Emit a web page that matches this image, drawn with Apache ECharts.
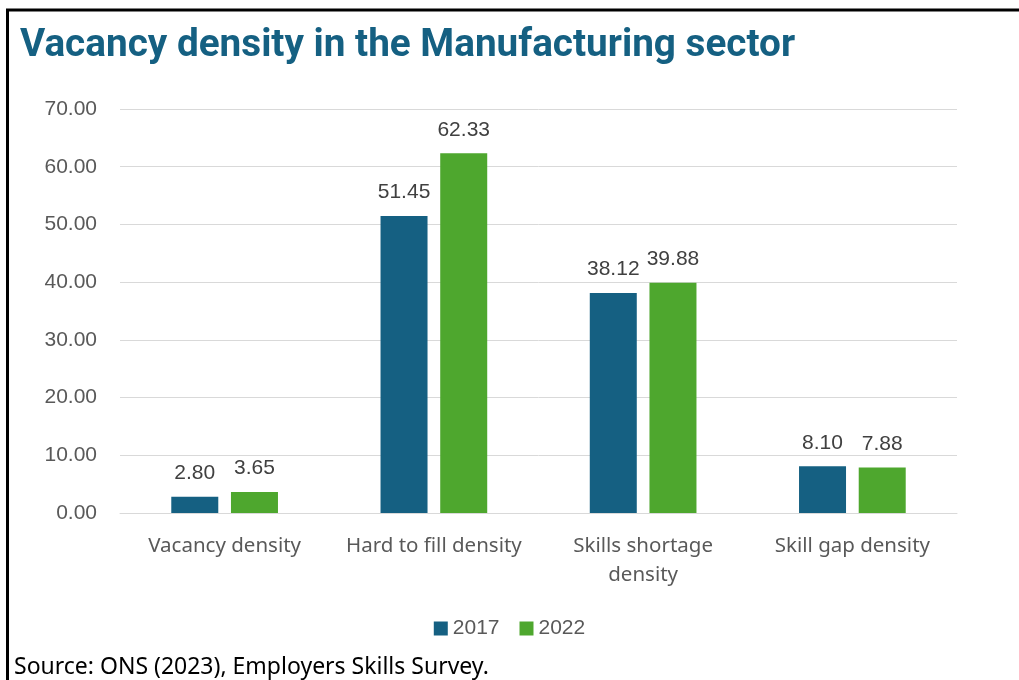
<!DOCTYPE html>
<html>
<head>
<meta charset="utf-8">
<script src="https://cdn.jsdelivr.net/npm/echarts@6/dist/echarts.min.js"></script>
<style>
html,body{margin:0;padding:0;background:#fff;}
#c{width:1019px;height:680px;}
</style>
</head>
<body>
<div id="c"></div>
<script>
const categories = ['Vacancy density', 'Hard to fill density', 'Skills shortage\ndensity', 'Skill gap density'];
const values2017 = [2.80, 51.45, 38.12, 8.10];
const values2022 = [3.65, 62.33, 39.88, 7.88];
const seriesNames = ['2017', '2022'];
const titleText = 'Vacancy density in the Manufacturing sector';
const sourceText = 'Source: ONS (2023), Employers Skills Survey.';

const chart = echarts.init(document.getElementById('c'), null, {renderer: 'canvas'});
const labelStyle = {
  show: true, position: 'top', distance: 13,
  formatter: p => p.value.toFixed(2),
  fontFamily: 'Liberation Sans, Arial, sans-serif', fontSize: 21, color: '#404040'
};
chart.setOption({
  animation: false,
  backgroundColor: '#fff',
  title: {
    text: titleText, left: 15, top: 22,
    textStyle: {fontFamily: 'Roboto, Noto Sans, sans-serif', fontWeight: 'bold', fontSize: 38.7, color: '#156082'}
  },
  graphic: [
    {type: 'line', shape: {x1: 6, y1: 10, x2: 1019, y2: 10}, style: {stroke: '#000', lineWidth: 3}},
    {type: 'line', shape: {x1: 7.5, y1: 10, x2: 7.5, y2: 680}, style: {stroke: '#000', lineWidth: 3}},
    {type: 'text', left: 14, top: 656, style: {text: sourceText, fontFamily: 'Noto Sans, Open Sans, sans-serif', fontSize: 23, fill: '#000'}}
  ],
  legend: {
    data: seriesNames, bottom: 36, left: 'center',
    itemWidth: 14, itemHeight: 14, itemGap: 20, icon: 'rect',
    textStyle: {fontFamily: 'Liberation Sans, Arial, sans-serif', fontSize: 21, color: '#595959'}
  },
  grid: {left: 120, right: 62, top: 109, bottom: 167, containLabel: false},
  xAxis: {
    type: 'category', data: categories,
    axisLine: {show: true, lineStyle: {color: '#d9d9d9', width: 1}},
    axisTick: {show: false},
    axisLabel: {margin: 19, fontFamily: 'Noto Sans, Open Sans, sans-serif', fontSize: 20.5, color: '#595959', lineHeight: 29, interval: 0}
  },
  yAxis: {
    type: 'value', min: 0, max: 70, interval: 10,
    axisLine: {show: false}, axisTick: {show: false},
    splitLine: {lineStyle: {color: '#d9d9d9', width: 1}},
    axisLabel: {margin: 23, formatter: v => v.toFixed(2), fontFamily: 'Liberation Sans, Arial, sans-serif', fontSize: 21, color: '#595959'}
  },
  series: [
    {name: seriesNames[0], type: 'bar', data: values2017, barWidth: 47, barGap: '27%', itemStyle: {color: '#156082'}, label: labelStyle},
    {name: seriesNames[1], type: 'bar', data: values2022, barWidth: 47, itemStyle: {color: '#4ea72e'}, label: labelStyle}
  ]
});
</script>
</body>
</html>
